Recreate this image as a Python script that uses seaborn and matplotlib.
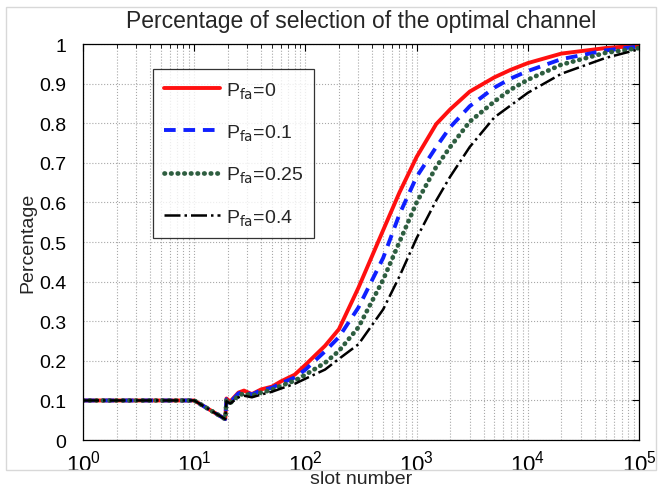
import numpy as np
import seaborn as sns
import matplotlib.pyplot as plt
from matplotlib.patches import Rectangle

# slot grid (log axis) and the read-off curves
slots = [1, 10, 19, 19.5, 21, 25, 28, 33, 40, 50, 60, 80, 100, 150, 200, 300,
         500, 700, 1000, 1500, 2000, 3000, 5000, 7000, 10000, 20000, 50000, 100000]
pfa_0 = [0.1, 0.1, 0.053, 0.105, 0.097, 0.12, 0.125, 0.116, 0.128, 0.135, 0.148, 0.165,
         0.19, 0.238, 0.28, 0.385, 0.53, 0.625, 0.715, 0.798, 0.835, 0.88, 0.916, 0.935,
         0.952, 0.976, 0.99, 0.996]
pfa_01 = [0.1, 0.1, 0.053, 0.103, 0.095, 0.118, 0.122, 0.115, 0.126, 0.132, 0.143, 0.158,
          0.178, 0.224, 0.26, 0.335, 0.46, 0.57, 0.665, 0.74, 0.79, 0.843, 0.89, 0.913,
          0.932, 0.962, 0.984, 0.994]
pfa_025 = [0.1, 0.1, 0.053, 0.1, 0.093, 0.112, 0.118, 0.112, 0.12, 0.127, 0.137, 0.15,
           0.165, 0.195, 0.225, 0.285, 0.405, 0.5, 0.6, 0.69, 0.74, 0.804, 0.855, 0.885,
           0.91, 0.948, 0.978, 0.99]
pfa_04 = [0.1, 0.1, 0.053, 0.098, 0.092, 0.108, 0.112, 0.108, 0.115, 0.122, 0.13, 0.142,
          0.155, 0.178, 0.205, 0.242, 0.33, 0.413, 0.51, 0.605, 0.665, 0.74, 0.815, 0.845,
          0.877, 0.925, 0.965, 0.987]

series_labels = [r'P$_{\rm fa}$=0', r'P$_{\rm fa}$=0.1', r'P$_{\rm fa}$=0.25', r'P$_{\rm fa}$=0.4']
y_ticks = [0, 0.1, 0.2, 0.3, 0.4, 0.5, 0.6, 0.7, 0.8, 0.9, 1]
y_tick_labels = ['0', '0.1', '0.2', '0.3', '0.4', '0.5', '0.6', '0.7', '0.8', '0.9', '1']

sns.set_theme(style='white')
plt.rcParams['font.family'] = ['Liberation Sans', 'DejaVu Sans']
plt.rcParams['mathtext.default'] = 'regular'

fig = plt.figure(figsize=(6.59, 4.89), dpi=100)
ax = fig.add_axes([0.126, 0.098, 0.8437, 0.8098])

# light gray frame around the figure (as in the screenshot)
fig.patches.append(Rectangle((6 / 659, 1 - 471 / 489), 650 / 659, 463 / 489,
                             transform=fig.transFigure, fill=False,
                             edgecolor='#d8d8d8', lw=1.0))

styles = [
    dict(color='#ff1010', lw=2.8, linestyle='-'),
    dict(color='#1020ff', lw=2.8, linestyle=(0, (3, 2))),
    dict(color='#2e5e40', lw=3.4, linestyle=(0, (0.1, 1.3)), dash_capstyle='round'),
    dict(color='black', lw=1.8, linestyle='-.'),
]
for ys, lab, st in zip([pfa_0, pfa_01, pfa_025, pfa_04], series_labels, styles):
    sns.lineplot(x=slots, y=ys, ax=ax, label=lab, **st)

ax.set_xscale('log')
ax.set_xlim(1, 1e5)
ax.set_ylim(0, 1)
ax.set_yticks(y_ticks)
ax.set_yticklabels(y_tick_labels)

ax.grid(True, which='both', linestyle=':', color='#a8a8a8', lw=0.8)
ax.tick_params(which='both', direction='in', top=True, right=True,
               labelsize=14, colors='black')
ax.tick_params(axis='y', pad=12)
ax.tick_params(axis='x', which='major', labelsize=16, pad=7)
ax.tick_params(which='major', length=5, width=0.8)
ax.tick_params(which='minor', length=3, width=0.6)
for s in ax.spines.values():
    s.set_color('black')
    s.set_linewidth(0.9)

ax.set_title('Percentage of selection of the optimal channel', fontsize=16.5, pad=12)
ax.set_xlabel('slot number', fontsize=14)
ax.xaxis.set_label_coords(0.5, -0.075)
ax.set_ylabel('Percentage', fontsize=14, labelpad=2)

leg = ax.legend(loc='upper left', bbox_to_anchor=(0.126, 0.937), fontsize=14,
                handlelength=2.9, labelspacing=1.15, borderpad=0.55, handletextpad=0.3,
                frameon=True, fancybox=False, borderaxespad=0)
leg.get_frame().set_edgecolor('black')
leg.get_frame().set_linewidth(0.9)

fig.savefig('out.png', dpi=100)
